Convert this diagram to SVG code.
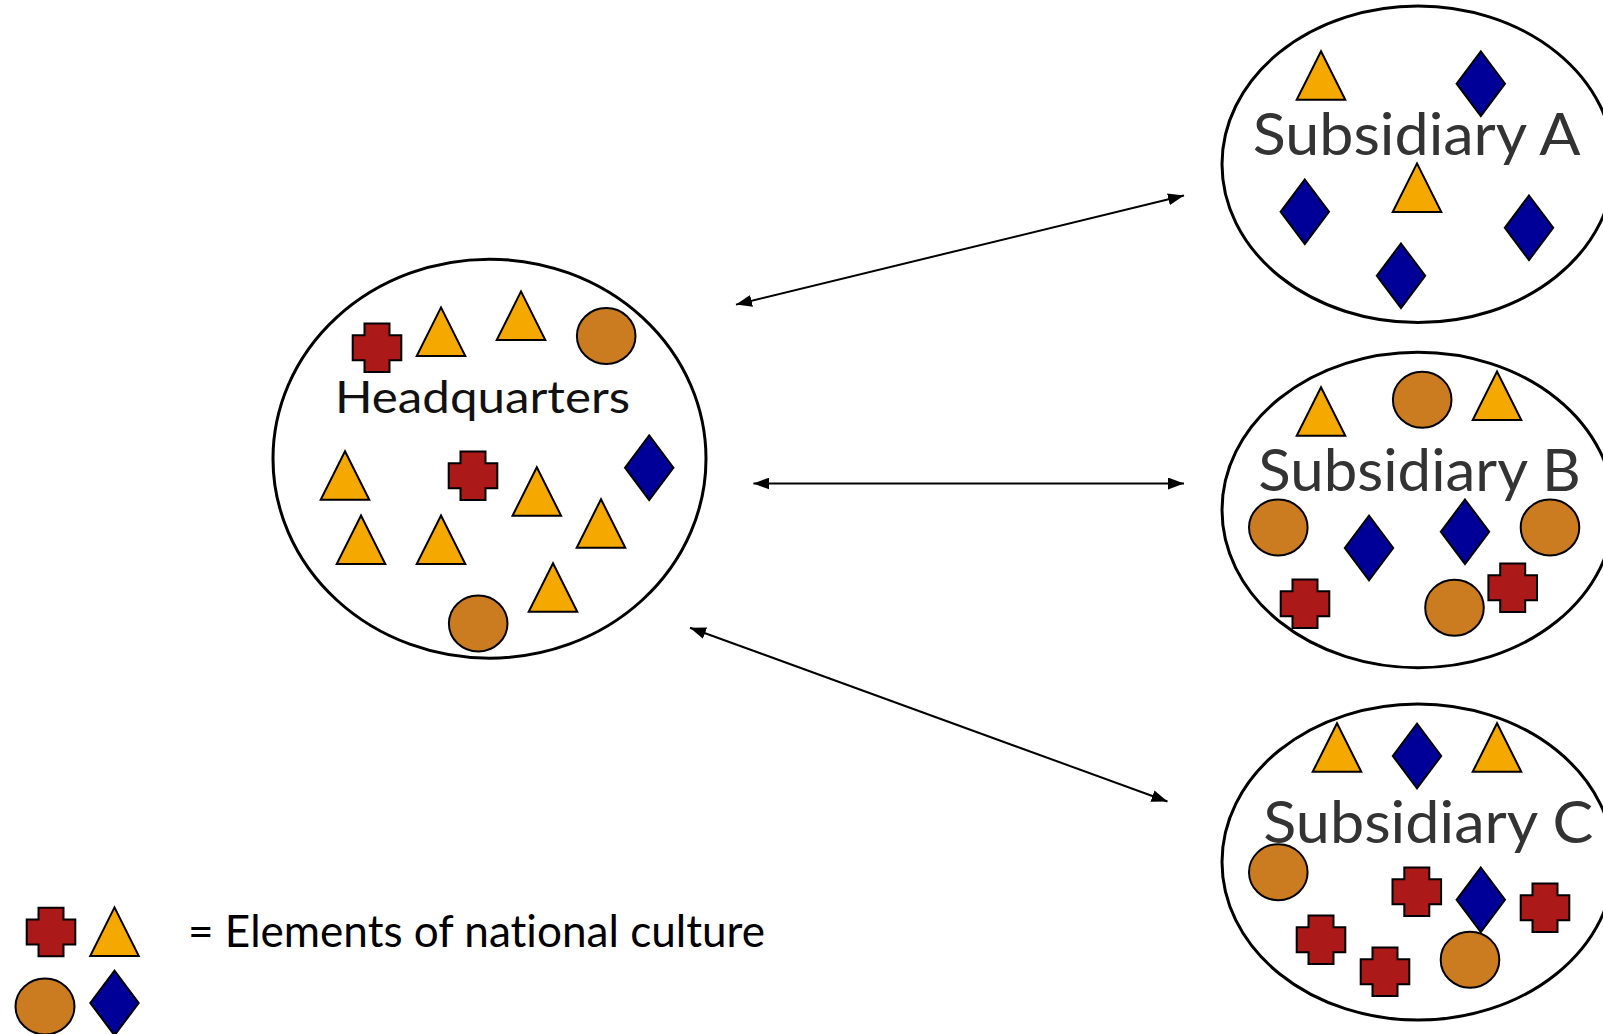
<svg xmlns="http://www.w3.org/2000/svg" xmlns:xlink="http://www.w3.org/1999/xlink" width="1603" height="1034" viewBox="0 0 1603 1034">
  <style>
    .region { fill: #ffffff; stroke: #000000; stroke-width: 3; }
    .sym { stroke: #000000; stroke-width: 2; stroke-linejoin: miter; }
    .tri { fill: #f5a800; }
    .dia { fill: #000098; }
    .cir { fill: #cb7b20; }
    .crs { fill: #ab1919; }
    .title { font-family: Lato, "Noto Sans", "DejaVu Sans", sans-serif; font-variant-ligatures: none; }
    .hq { font-size: 45px; fill: #111111; }
    .sub { font-size: 58px; fill: #333333; }
    .legend { font-family: Lato, "Noto Sans", "DejaVu Sans", sans-serif; font-size: 44px; fill: #000000; font-variant-ligatures: none; }
    .link { stroke: #000000; stroke-width: 2; fill: none; marker-start: url(#head); marker-end: url(#head); }
  </style>
  <defs>
    <marker id="head" viewBox="0 0 16 12" refX="16" refY="6" markerWidth="16" markerHeight="12" markerUnits="userSpaceOnUse" orient="auto-start-reverse">
      <path d="M0,0 L16,6 L0,12 z" fill="#000000"/>
    </marker>
    <polygon id="tri" class="sym tri" points="0,-24.3 24.3,24.3 -24.3,24.3"/>
    <polygon id="dia" class="sym dia" points="0,-32.3 24.2,0 0,32.3 -24.2,0"/>
    <ellipse id="cir" class="sym cir" rx="29.3" ry="28"/>
    <polygon id="crs" class="sym crs" points="-12.5,-24.3 12.5,-24.3 12.5,-12.5 24.3,-12.5 24.3,12.5 12.5,12.5 12.5,24.3 -12.5,24.3 -12.5,12.5 -24.3,12.5 -24.3,-12.5 -12.5,-12.5"/>
  </defs>

  <rect width="1603" height="1034" fill="#ffffff"/>

  <!-- two-way links between headquarters and subsidiaries -->
  <g id="connectors">
    <line class="link" x1="736" y1="304.6" x2="1184" y2="195.5"/>
    <line class="link" x1="753.4" y1="483.5" x2="1184" y2="483.5"/>
    <line class="link" x1="690" y1="627.7" x2="1167.5" y2="801.5"/>
  </g>

  <g id="headquarters">
    <ellipse class="region" cx="489.5" cy="458.7" rx="216.5" ry="199.5"/>
    <use xlink:href="#crs" x="377" y="347.7"/>
    <use xlink:href="#tri" x="441" y="331.7"/>
    <use xlink:href="#tri" x="521" y="315.7"/>
    <use xlink:href="#cir" x="606.2" y="336"/>
    <text class="title hq" x="335" y="412.7" textLength="295" lengthAdjust="spacingAndGlyphs">Headquarters</text>
    <use xlink:href="#tri" x="345" y="475.5"/>
    <use xlink:href="#crs" x="473" y="475.8"/>
    <use xlink:href="#dia" x="649.2" y="467.7"/>
    <use xlink:href="#tri" x="536.8" y="491.5"/>
    <use xlink:href="#tri" x="361" y="539.8"/>
    <use xlink:href="#tri" x="441" y="539.8"/>
    <use xlink:href="#tri" x="601" y="523.5"/>
    <use xlink:href="#tri" x="553" y="587.5"/>
    <use xlink:href="#cir" x="478.2" y="623.5"/>
  </g>

  <g id="subsidiary-a">
    <ellipse class="region" cx="1418" cy="164.3" rx="196" ry="158.3"/>
    <use xlink:href="#tri" x="1321" y="75.5"/>
    <use xlink:href="#dia" x="1480.8" y="83.7"/>
    <text class="title sub" x="1252.7" y="155" textLength="328" lengthAdjust="spacingAndGlyphs">Subsidiary A</text>
    <use xlink:href="#tri" x="1417" y="187.7"/>
    <use xlink:href="#dia" x="1304.8" y="211.8"/>
    <use xlink:href="#dia" x="1529" y="227.8"/>
    <use xlink:href="#dia" x="1401" y="275.8"/>
  </g>

  <g id="subsidiary-b">
    <ellipse class="region" cx="1418" cy="510" rx="196" ry="157.7"/>
    <use xlink:href="#tri" x="1321" y="411.5"/>
    <use xlink:href="#cir" x="1422.2" y="399.7"/>
    <use xlink:href="#tri" x="1497" y="395.8"/>
    <text class="title sub" x="1258.3" y="490.7" textLength="322.4" lengthAdjust="spacingAndGlyphs">Subsidiary B</text>
    <use xlink:href="#cir" x="1278.3" y="527.5"/>
    <use xlink:href="#dia" x="1369" y="548"/>
    <use xlink:href="#dia" x="1465" y="531.8"/>
    <use xlink:href="#cir" x="1550" y="527.5"/>
    <use xlink:href="#crs" x="1305" y="603.8"/>
    <use xlink:href="#cir" x="1454.5" y="607.7"/>
    <use xlink:href="#crs" x="1512.7" y="587.7"/>
  </g>

  <g id="subsidiary-c">
    <ellipse class="region" cx="1418" cy="862" rx="196" ry="158"/>
    <use xlink:href="#tri" x="1337" y="747.5"/>
    <use xlink:href="#dia" x="1417" y="756"/>
    <use xlink:href="#tri" x="1497" y="747.5"/>
    <text class="title sub" x="1263.3" y="842.7" textLength="330" lengthAdjust="spacingAndGlyphs">Subsidiary C</text>
    <use xlink:href="#cir" x="1278.3" y="872.2"/>
    <use xlink:href="#crs" x="1416.8" y="891.7"/>
    <use xlink:href="#dia" x="1480.8" y="899.8"/>
    <use xlink:href="#crs" x="1545" y="907.8"/>
    <use xlink:href="#crs" x="1321" y="939.8"/>
    <use xlink:href="#crs" x="1385" y="971.8"/>
    <use xlink:href="#cir" x="1470" y="959.7"/>
  </g>

  <g id="legend">
    <use xlink:href="#crs" x="51" y="932"/>
    <use xlink:href="#tri" x="114.5" y="931.7"/>
    <ellipse class="sym cir" cx="45" cy="1006.5" rx="29.5" ry="28"/>
    <use xlink:href="#dia" x="114.5" y="1003"/>
    <text class="legend" x="188" y="947.3" textLength="577" lengthAdjust="spacingAndGlyphs">= Elements of national culture</text>
  </g>
</svg>
